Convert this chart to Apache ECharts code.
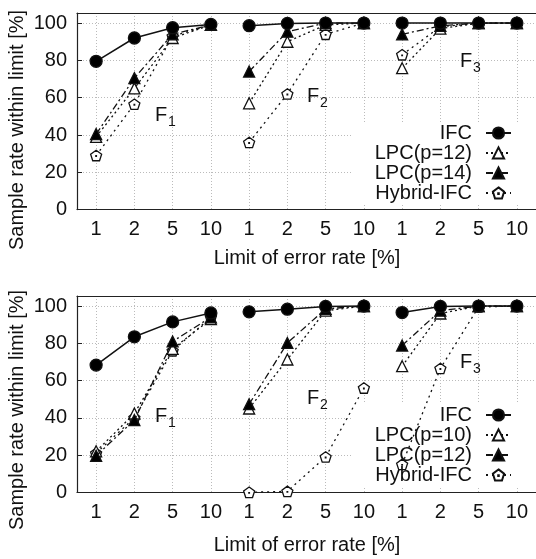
<!DOCTYPE html>
<html><head><meta charset="utf-8">
<script src="https://cdn.jsdelivr.net/npm/echarts@6/dist/echarts.min.js"></script>
<style>html,body{margin:0;padding:0;background:#fff}#c{width:536px;height:559px}</style>
</head><body><div id="c"></div>
<script>
// ---- data ----
const xLabels = ['1','2','5','10','1','2','5','10','1','2','5','10'];
const topNames = ['IFC','LPC(p=12)','LPC(p=14)','Hybrid-IFC'];
const botNames = ['IFC','LPC(p=10)','LPC(p=12)','Hybrid-IFC'];
const groupTags = ['1','2','3'];

const ifcTop  = [79.5, 92, 97.5, 99.3, 98.6, 99.8, 100, 100, 100, 100, 100, 100];
const lpc12Top = [39, 65, 92, 99, 57, 90, 99, 100, 75.8, 97, 100, 100];
const lpc14Top = [40.5, 70.5, 94, 99, 74, 95.4, 100, 100, 94, 98.5, 100, 100];
const hybTop  = [29, 56.5, 93, 99, 36, 62, 94, 100, 83, 98, 100, 100];

const ifcBot  = [68.3, 83.5, 91.5, 96.3, 96.9, 98.3, 99.8, 100, 96.5, 99.8, 100, 100];
const lpc10Bot = [22, 42.3, 77, 93, 45, 71.3, 97.5, 100, 67.7, 96, 100, 100];
const lpc12Bot = [19.6, 38.8, 81, 94, 47.3, 80.2, 98.5, 100, 78.8, 97.5, 100, 100];
const hybBot  = [21, 40, 76, 94, 0, 0.5, 19, 56, 15, 66.5, 99.5, 100];

const yTitle = 'Sample rate within limit [%]';
const xTitle = 'Limit of error rate [%]';

// ---- styling ----
const FONT = "'Liberation Sans', Arial, Helvetica, sans-serif";
const INK = '#111';
const pent = 'path://M0,-1 L0.951,-0.309 L0.588,0.809 L-0.588,0.809 L-0.951,-0.309 Z M-0.05,-0.05 L0.05,-0.05 L0.05,0.05 L-0.05,0.05 Z';
const styles = [
  {symbol:'circle', size:12, fill:'#000', dash:'solid', z:5, w:1.5},
  {symbol:'triangle', size:11, fill:'#fff', dash:[2,3], z:3, w:1.3},
  {symbol:'triangle', size:11, fill:'#000', dash:[7,3,2,3], z:4, w:1.3},
  {symbol:pent, size:11, fill:'#fff', dash:[2,4], z:2, w:1.3}
];

const chart = echarts.init(document.getElementById('c'), null, {renderer:'canvas'});

function xAxes(gi){
  const line = {lineStyle:{color:'#222', width:1.2}};
  return [
    {type:'category', gridIndex:gi, data:xLabels, boundaryGap:true, position:'bottom',
     axisLine:line, axisTick:{inside:true, alignWithLabel:true, length:5, lineStyle:{color:'#222'}},
     axisLabel:{fontSize:20, color:INK, margin:10, fontFamily:FONT, interval:0},
     splitLine:{show:true, alignWithLabel:true, interval:0, lineStyle:{color:'#bbb', type:[1,2], width:1}}},
    {type:'category', gridIndex:gi, data:xLabels, boundaryGap:true, position:'top',
     axisLine:line, axisTick:{inside:true, alignWithLabel:true, length:5, lineStyle:{color:'#222'}},
     axisLabel:{show:false}, splitLine:{show:false}}
  ];
}
function yAxis(gi){
  return {type:'value', gridIndex:gi, min:0, max:105.4, interval:20,
    axisLine:{show:true, lineStyle:{color:'#222', width:1.2}},
    axisTick:{show:true, inside:true, length:5, lineStyle:{color:'#222'}},
    axisLabel:{fontSize:20, color:INK, margin:10, fontFamily:FONT,
      formatter:v => (Math.abs(v % 20) < 1e-9 ? String(v) : '')},
    splitLine:{show:true, lineStyle:{color:'#bbb', type:[1,2], width:1}}};
}

const series = [];
function addPanel(gi, names, arrays, suffix){
  arrays.forEach((arr, k) => {
    const st = styles[k];
    groupTags.forEach((tag, g) => {
      series.push({
        type:'line', name:names[k] + suffix, xAxisIndex:gi*2, yAxisIndex:gi,
        data: arr.map((v,i) => Math.floor(i/4) === g ? v : '-'),
        symbol:st.symbol, symbolSize:st.size, symbolKeepAspect:true, showSymbol:true,
        connectNulls:false, clip:false, z:st.z, silent:true,
        lineStyle:{color:INK, width:st.w, type:st.dash},
        itemStyle:{color:st.fill, borderColor:INK, borderWidth:1.3},
        emphasis:{disabled:true}, animation:false
      });
    });
  });
}
addPanel(0, topNames, [ifcTop, lpc12Top, lpc14Top, hybTop], '');
addPanel(1, botNames, [ifcBot, lpc10Bot, lpc12Bot, hybBot], '#b');

function legend(names, suffix, top){
  return {data:names.map(n => n + suffix), orient:'vertical', right:24, top:top, align:'right',
    itemGap:0, itemWidth:25, itemHeight:14, padding:0, selectedMode:false,
    textStyle:{fontSize:20, lineHeight:20, color:INK, fontFamily:FONT, padding:[0,9,0,0]},
    formatter:n => n.replace('#b','')};
}

function fLabel(x, y, sub){
  return [
    {type:'text', x:x, y:y, z:10, silent:true, style:{text:'F', fontSize:20, fontFamily:FONT, fill:INK, textAlign:'left', textVerticalAlign:'middle'}},
    {type:'text', x:x+13, y:y+7.5, z:10, silent:true, style:{text:sub, fontSize:14, fontFamily:FONT, fill:INK, textAlign:'left', textVerticalAlign:'middle'}}
  ];
}

const graphic = [
  {type:'rect', shape:{x:352, y:122, width:190, height:83}, style:{fill:'#fff'}, z:1, silent:true},
  {type:'rect', shape:{x:352, y:404, width:190, height:84}, style:{fill:'#fff'}, z:1, silent:true},
  {type:'text', x:17, y:130, rotation:Math.PI/2, silent:true, style:{text:yTitle, fontSize:20, fontFamily:FONT, fill:INK, textAlign:'center', textVerticalAlign:'middle'}},
  {type:'text', x:17, y:410, rotation:Math.PI/2, silent:true, style:{text:yTitle, fontSize:20, fontFamily:FONT, fill:INK, textAlign:'center', textVerticalAlign:'middle'}},
  {type:'text', x:307, y:258, silent:true, style:{text:xTitle, fontSize:20, fontFamily:FONT, fill:INK, textAlign:'center', textVerticalAlign:'middle'}},
  {type:'text', x:307, y:545, silent:true, style:{text:xTitle, fontSize:20, fontFamily:FONT, fill:INK, textAlign:'center', textVerticalAlign:'middle'}},
  ...fLabel(155, 115, '1'), ...fLabel(307, 96, '2'), ...fLabel(460, 61, '3'),
  ...fLabel(155, 416, '1'), ...fLabel(307, 398, '2'), ...fLabel(460, 362, '3')
];

chart.setOption({
  animation:false,
  backgroundColor:'#fff',
  grid:[
    {left:77, top:13, width:460, height:196.6},
    {left:77, top:296, width:460, height:196.3}
  ],
  xAxis:[...xAxes(0), ...xAxes(1)],
  yAxis:[yAxis(0), yAxis(1)],
  legend:[legend(topNames, '', 123), legend(botNames, '#b', 405)],
  series:series,
  graphic:graphic
});
</script></body></html>
